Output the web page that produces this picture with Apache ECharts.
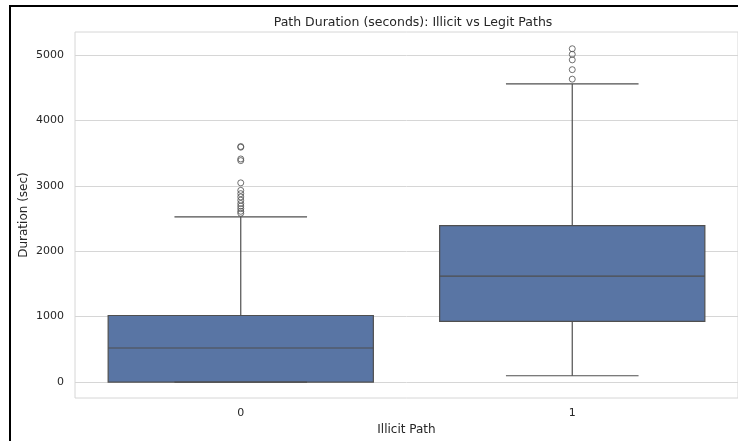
<!DOCTYPE html>
<html>
<head>
<meta charset="utf-8">
<script src="https://cdn.jsdelivr.net/npm/echarts@6/dist/echarts.min.js"></script>
<style>
html,body{margin:0;padding:0;background:#fff;}
#chart{width:738px;height:441px;}
</style>
</head>
<body>
<div id="chart"></div>
<script>
// ---- data ----
var categories = ['0', '1'];
var whiskerLow = [0, 96];
var q1 = [0, 926];
var medians = [520, 1619];
var q3 = [1017, 2392];
var whiskerHigh = [2525, 4557];
var outliers0 = [3600, 3590, 3410, 3385, 3045, 2930, 2880, 2830, 2780, 2730, 2690, 2650, 2610, 2580];
var outliers1 = [5095, 5010, 4925, 4775, 4630];
var yTicks = [0, 1000, 2000, 3000, 4000, 5000];

var FONT = 'DejaVu Sans';
var TXT = '#262626';
var LINE = '#4f4f4f';
var FILL = '#5975a4';
var GRIDC = '#d6d6d6';

var boxData = categories.map(function (c, i) {
  return [i, whiskerLow[i], q1[i], medians[i], q3[i], whiskerHigh[i]];
});
var outlierData = [];
outliers0.forEach(function (v) { outlierData.push([0, v]); });
outliers1.forEach(function (v) { outlierData.push([1, v]); });

function renderBox(params, api) {
  var x = api.value(0);
  var pLo = api.coord([x, api.value(1)]);
  var pQ1 = api.coord([x, api.value(2)]);
  var pMed = api.coord([x, api.value(3)]);
  var pQ3 = api.coord([x, api.value(4)]);
  var pHi = api.coord([x, api.value(5)]);
  var band = api.size([1, 0])[0];
  var cx = pMed[0];
  var hw = band * 0.4;
  var cw = band * 0.2;
  var ls = { stroke: LINE, lineWidth: 1.2 };
  return {
    type: 'group',
    children: [
      { type: 'line', shape: { x1: cx, y1: pQ3[1], x2: cx, y2: pHi[1] }, style: ls },
      { type: 'line', shape: { x1: cx, y1: pQ1[1], x2: cx, y2: pLo[1] }, style: ls },
      { type: 'rect', shape: { x: cx - hw, y: pQ3[1], width: hw * 2, height: pQ1[1] - pQ3[1] },
        style: { fill: FILL, stroke: LINE, lineWidth: 1.2 } },
      { type: 'line', shape: { x1: cx - hw, y1: pMed[1], x2: cx + hw, y2: pMed[1] }, style: ls },
      { type: 'line', shape: { x1: cx - cw, y1: pHi[1], x2: cx + cw, y2: pHi[1] }, style: ls },
      { type: 'line', shape: { x1: cx - cw, y1: pLo[1], x2: cx + cw, y2: pLo[1] }, style: ls }
    ]
  };
}

var chart = echarts.init(document.getElementById('chart'), null, { renderer: 'canvas' });
chart.setOption({
  animation: false,
  backgroundColor: '#ffffff',
  textStyle: { fontFamily: FONT },
  title: {
    text: 'Path Duration (seconds): Illicit vs Legit Paths',
    left: 408, top: 11, textAlign: 'center',
    textStyle: { fontFamily: FONT, fontSize: 12.5, fontWeight: 'normal', color: TXT }
  },
  graphic: [
    { type: 'line', shape: { x1: 9, y1: 6, x2: 738, y2: 6 }, style: { stroke: '#000', lineWidth: 2 }, z: 100 },
    { type: 'line', shape: { x1: 10, y1: 5, x2: 10, y2: 441 }, style: { stroke: '#000', lineWidth: 2 }, z: 100 }
  ],
  grid: { left: 75, top: 32, width: 666, height: 366, show: true, borderColor: GRIDC, borderWidth: 1, backgroundColor: '#fff' },
  xAxis: {
    type: 'category',
    data: categories,
    name: 'Illicit Path',
    nameLocation: 'middle',
    nameGap: 26,
    nameMoveOverlap: false,
    nameTextStyle: { fontFamily: FONT, fontSize: 12, color: TXT },
    axisLine: { show: false },
    axisTick: { show: false },
    axisLabel: { fontFamily: FONT, fontSize: 11, color: TXT, margin: 10 },
    splitLine: { show: false }
  },
  yAxis: {
    type: 'value',
    min: -244, max: 5351,
    name: 'Duration (sec)',
    nameLocation: 'middle',
    nameGap: 45,
    nameMoveOverlap: false,
    nameTextStyle: { fontFamily: FONT, fontSize: 12, color: TXT },
    axisLine: { show: false },
    axisTick: { show: false },
    axisLabel: { fontFamily: FONT, fontSize: 11, color: TXT, margin: 11, customValues: yTicks,
      formatter: function (v) { return String(v); } },
    splitLine: { show: false }
  },
  series: [
    {
      type: 'scatter',
      data: [],
      z: 1,
      silent: true,
      markLine: {
        silent: true,
        z: 1,
        symbol: ['none', 'none'],
        label: { show: false },
        lineStyle: { color: GRIDC, width: 1, type: 'solid' },
        data: yTicks.map(function (v) { return { yAxis: v }; })
      }
    },
    {
      type: 'custom',
      z: 3,
      renderItem: renderBox,
      encode: { x: 0, y: [1, 2, 3, 4, 5] },
      data: boxData
    },
    {
      type: 'scatter',
      z: 4,
      symbol: 'circle',
      symbolSize: 6,
      itemStyle: { color: 'rgba(0,0,0,0)', borderColor: LINE, borderWidth: 1 },
      data: outlierData
    }
  ]
});
</script>
</body>
</html>
